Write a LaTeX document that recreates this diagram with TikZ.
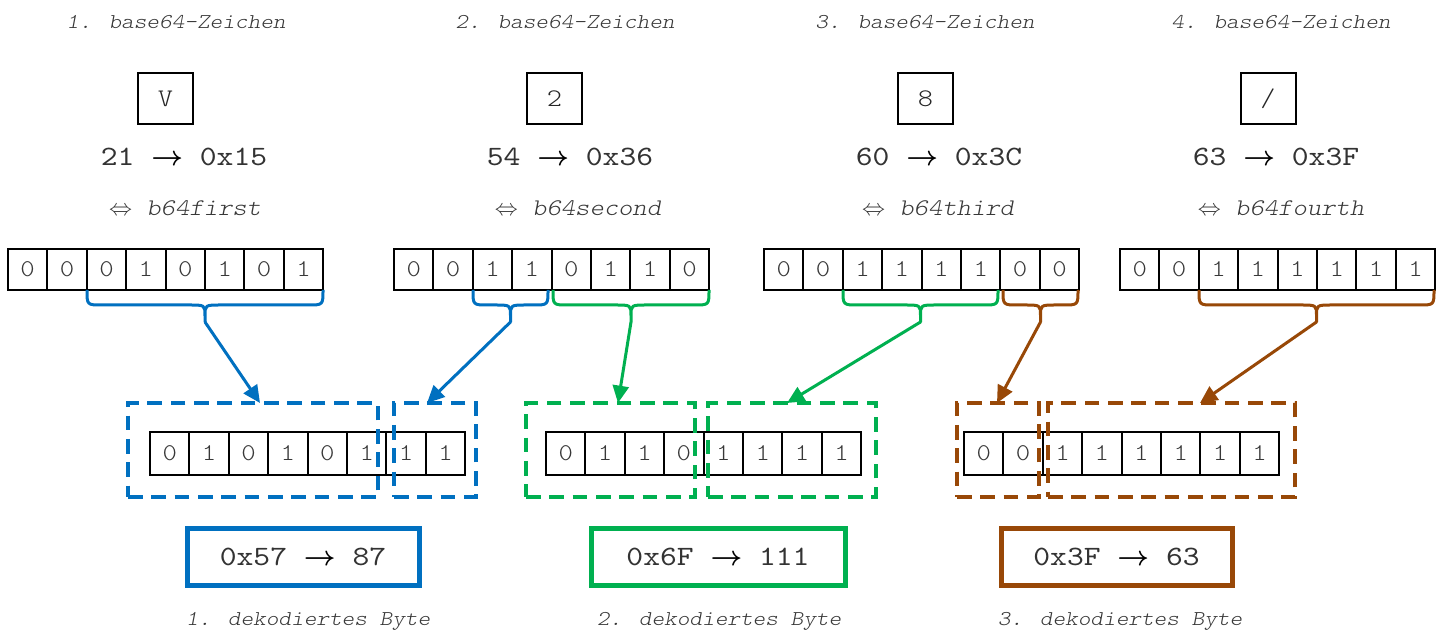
\documentclass[tikz,border=0pt]{standalone}
\usepackage{fontspec}
\usetikzlibrary{arrows.meta,fit,calc}
\newfontfamily\monof{lmmonolt10-regular.otf}[ItalicFont=lmmonolt10-oblique.otf, FakeStretch=1.143]
\newfontfamily\monor{lmmono10-regular.otf}[FakeStretch=1.143]
\definecolor{cblue}{HTML}{0070C0}
\definecolor{cgreen}{HTML}{00B050}
\definecolor{cbrown}{HTML}{984807}
\definecolor{tgray}{HTML}{383838}
\newcommand{\arr}{{\color{black}\boldmath$\rightarrow$}}
\newcommand{\eqv}{{\upshape$\Leftrightarrow$}}
\newcommand{\bitrow}[5]{%
  \foreach \b [count=\i] in {#5} \node[#1] (#2-\i) at ({#3+(\i-0.5)*39.4},#4) {\b};%
}
\newcommand{\bracepath}[4]{%
  \pgfmathsetmacro\bm{(#2+#3)/2}%
  \coordinate (#4) at (\bm,322);%
  \draw[bracestyle,#1] (#2,290) .. controls (#2,305) .. (#2+15,305) -- (\bm-16,305) .. controls (\bm,305) .. (\bm,316) -- (#4) -- (\bm,316) .. controls (\bm,305) .. (\bm+16,305) -- (#3-15,305) .. controls (#3,305) .. (#3,290);%
}
\begin{document}
\begin{tikzpicture}[x=0.75pt,y=-0.75pt,
 bit/.style={draw, line width=1.5pt, minimum width=29.55pt, minimum height=31pt, inner sep=0pt, font=\monof\fontsize{18}{18}\selectfont, text=tgray},
 mbit/.style={bit, minimum height=32pt},
 letterbox/.style={draw, line width=1.5pt, minimum width=41.25pt, minimum height=38.25pt, inner sep=0pt, font=\monof\fontsize{19}{19}\selectfont, text=black!85},
 toplabel/.style={font=\monof\itshape\fontsize{15.8}{16}\selectfont, text=tgray},
 numlabel/.style={font=\monor\fontsize{21}{21}\selectfont, text=black!80},
 funlabel/.style={font=\monof\itshape\fontsize{17.9}{18}\selectfont, text=tgray},
 bracestyle/.style={line width=2.25pt, line join=round},
 link/.style={line width=2.25pt, -{Triangle[length=13pt,width=12pt]}},
 dbox/.style={draw, line width=3pt, dash pattern=on 11pt off 6.5pt, inner sep=0pt},
 obox/.style={draw, line width=3.75pt, minimum height=42.75pt, inner sep=0pt, font=\monor\fontsize{21}{21}\selectfont},
]
\fill[white] (0,0) rectangle (1443,630);
\useasboundingbox (0,0) rectangle (1443,630);

% top labels
\node[toplabel] (t1) at (176,22) {1. base64-Zeichen};
\node[toplabel] (t2) at (565,22) {2. base64-Zeichen};
\node[toplabel] (t3) at (925,22) {3. base64-Zeichen};
\node[toplabel] (t4) at (1281,22) {4. base64-Zeichen};

% letter boxes
\node[letterbox] (c1) at (165.5,98.5) {V};
\node[letterbox] (c2) at (554.5,98.5) {2};
\node[letterbox] (c3) at (925.5,98.5) {8};
\node[letterbox] (c4) at (1268,98.5) {/};

% values
\node[numlabel] (n1) at (184,157) {21 \arr{} 0x15};
\node[numlabel] (n2) at (570,157) {54 \arr{} 0x36};
\node[numlabel] (n3) at (939,157) {60 \arr{} 0x3C};
\node[numlabel] (n4) at (1276,157) {63 \arr{} 0x3F};

% function names
\node[funlabel] (f1) at (185,208) {\eqv{} b64first};
\node[funlabel] (f2) at (578,208) {\eqv{} b64second};
\node[funlabel] (f3) at (938,208) {\eqv{} b64third};
\node[funlabel] (f4) at (1281,208) {\eqv{} b64fourth};

% top bit rows
\bitrow{bit}{ra}{8}{269.5}{0,0,0,1,0,1,0,1}
\bitrow{bit}{rb}{394}{269.5}{0,0,1,1,0,1,1,0}
\bitrow{bit}{rc}{764}{269.5}{0,0,1,1,1,1,0,0}
\bitrow{bit}{rd}{1120}{269.5}{0,0,1,1,1,1,1,1}

% braces
\bracepath{cblue}{87}{323}{k1}
\bracepath{cblue}{473}{548}{k2}
\bracepath{cgreen}{553}{709}{k3}
\bracepath{cgreen}{843}{998}{k4}
\bracepath{cbrown}{1003}{1078}{k5}
\bracepath{cbrown}{1199}{1434}{k6}

% middle bit rows
\bitrow{mbit}{ma}{150}{453.5}{0,1,0,1,0,1,1,1}
\bitrow{mbit}{mb}{546}{453.5}{0,1,1,0,1,1,1,1}
\bitrow{mbit}{mc}{964}{453.5}{0,0,1,1,1,1,1,1}

% dashed groups
\node[dbox,cblue,fit={(128,403) (378,497)}] (da) {};
\node[dbox,cblue,fit={(394,403) (476,497)}] (db) {};
\node[dbox,cgreen,fit={(526,403) (695,497)}] (dc) {};
\node[dbox,cgreen,fit={(708,403) (876,497)}] (dd) {};
\node[dbox,cbrown,fit={(957,403) (1039,497)}] (de) {};
\node[dbox,cbrown,fit={(1048,403) (1295,497)}] (df) {};

% arrow ends
\coordinate (e1) at (260,403);
\coordinate (e2) at (427,403);
\coordinate (e3) at (618,403);
\coordinate (e4) at (787,403);
\coordinate (e5) at (997,403);
\coordinate (e6) at (1200,403);

\draw[link,cblue] (k1) -- (e1);
\draw[link,cblue] (k2) -- (e2);
\draw[link,cgreen] (k3) -- (e3);
\draw[link,cgreen] (k4) -- (e4);
\draw[link,cbrown] (k5) -- (e5);
\draw[link,cbrown] (k6) -- (e6);

% results
\node[obox,cblue,minimum width=174pt] (o1) at (303,557) {\color{black!80}0x57 \arr{} 87\hspace{13pt}};
\node[obox,cgreen,minimum width=190.5pt] (o2) at (718,557) {\color{black!80}0x6F \arr{} 111\hspace{17pt}};
\node[obox,cbrown,minimum width=173.25pt] (o3) at (1116.5,557) {\color{black!80}0x3F \arr{} 63\hspace{13pt}};

% bottom labels
\node[toplabel] (l1) at (308,621) {1. dekodiertes Byte};
\node[toplabel] (l2) at (719,621) {2. dekodiertes Byte};
\node[toplabel] (l3) at (1120,621) {3. dekodiertes Byte};
\end{tikzpicture}
\end{document}
